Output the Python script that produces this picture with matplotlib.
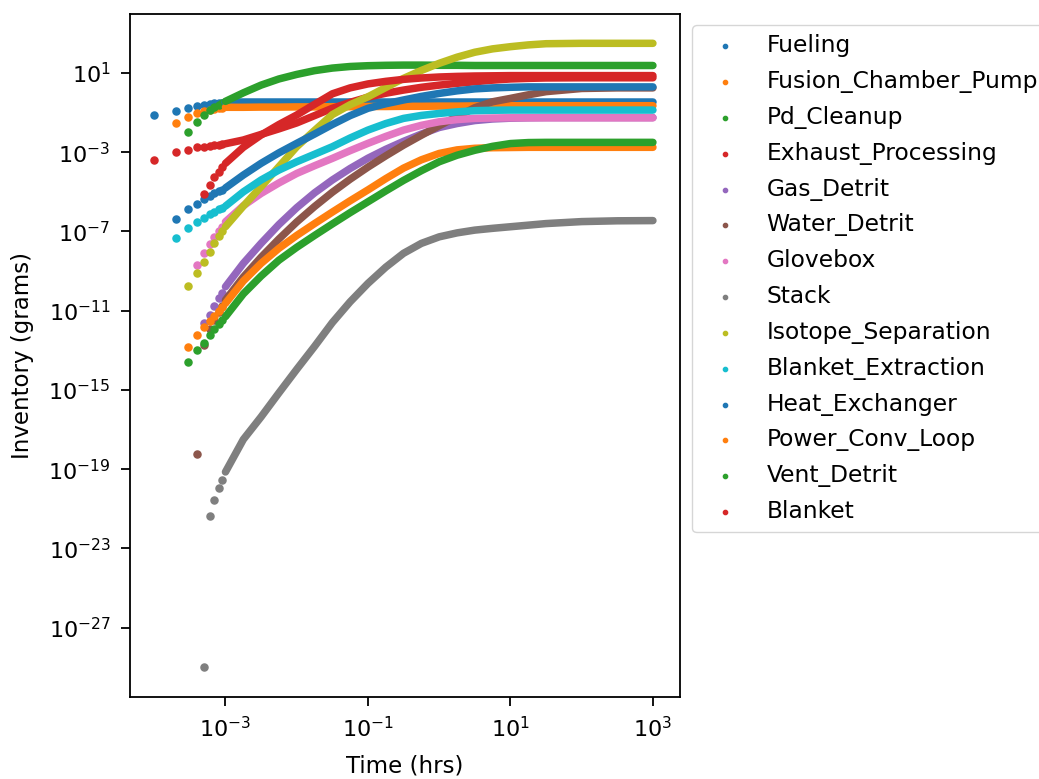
import numpy as np
import matplotlib
matplotlib.use("Agg")
import matplotlib.pyplot as plt
from matplotlib.ticker import NullLocator

NA = np.nan

# time points (hrs): sparse early dots, then the dense part of each curve
TIMES_EARLY = [1e-4, 2e-4, 3e-4, 4e-4, 5e-4, 6e-4, 7e-4, 8e-4, 9e-4]
TIMES_MAIN = [1e-3, 1.78e-3, 3.16e-3, 5.62e-3, 1e-2, 1.78e-2, 3.16e-2, 5.62e-2,
              0.1, 0.178, 0.316, 0.562, 1.0, 1.78, 3.16, 5.62,
              10.0, 17.8, 31.6, 100.0, 316.0, 1000.0]

COMPONENTS = [
    "Fueling", "Fusion_Chamber_Pump", "Pd_Cleanup", "Exhaust_Processing",
    "Gas_Detrit", "Water_Detrit", "Glovebox", "Stack", "Isotope_Separation",
    "Blanket_Extraction", "Heat_Exchanger", "Power_Conv_Loop", "Vent_Detrit", "Blanket",
]

# log10 of inventory (grams): 9 early dots, then TIMES_MAIN
FUELING = [-1.12, -0.90, -0.78, -0.68, -0.60, -0.55, -0.52, -0.50, -0.49,
           -0.47, -0.47, -0.47, -0.47, -0.47, -0.47, -0.47, -0.47, -0.47, -0.47, -0.47,
           -0.47, -0.47, -0.47, -0.47, -0.47, -0.47, -0.47, -0.47, -0.47, -0.47, -0.47]
FUSION_PUMP = [NA, -1.54, -1.20, -1.04, -0.92, -0.85, -0.80, -0.77, -0.75,
               -0.73, -0.73, -0.72, -0.72, -0.71, -0.71, -0.70, -0.70, -0.69, -0.69, -0.68,
               -0.68, -0.67, -0.67, -0.66, -0.66, -0.65, -0.65, -0.65, -0.65, -0.65, -0.65]
PD_CLEANUP = [NA, NA, -2.00, -1.48, -1.10, -0.87, -0.72, -0.60, -0.50,
              -0.43, 0.00, 0.39, 0.70, 0.93, 1.12, 1.25, 1.33, 1.37, 1.39, 1.40,
              1.40, 1.39, 1.39, 1.38, 1.38, 1.38, 1.38, 1.38, 1.38, 1.38, 1.38]
EXHAUST = [-3.38, -3.00, -2.87, -2.75, -2.71, -2.68, -2.65, -2.62, -2.60,
           -2.57, -2.38, -2.10, -1.82, -1.52, -1.15, -0.78, -0.48, -0.22, -0.02, 0.14,
           0.28, 0.39, 0.48, 0.56, 0.64, 0.70, 0.73, 0.75, 0.76, 0.76, 0.76]
GAS_DETRIT = [NA, NA, NA, NA, -11.60, -11.20, -10.77, -10.38, -10.08,
              -9.79, -8.61, -7.60, -6.65, -5.80, -5.05, -4.40, -3.82, -3.30, -2.85, -2.45,
              -2.08, -1.75, -1.55, -1.40, -1.32, -1.28, -1.26, -1.25, -1.25, -1.25, -1.25]
WATER_DETRIT = [NA, NA, NA, -18.24, -12.74, -11.90, -11.45, -11.05, -10.75,
                -10.46, -9.30, -8.30, -7.38, -6.52, -5.74, -5.02, -4.36, -3.75, -3.18, -2.64,
                -2.14, -1.66, -1.20, -0.75, -0.45, -0.28, -0.10, 0.06, 0.22, 0.25, 0.25]
GLOVEBOX = [NA, NA, NA, -8.70, -8.07, -7.64, -7.30, -7.00, -6.75,
            -6.51, -5.70, -5.08, -4.55, -4.07, -3.68, -3.31, -2.92, -2.55, -2.20, -1.88,
            -1.64, -1.46, -1.35, -1.29, -1.27, -1.26, -1.26, -1.26, -1.26, -1.26, -1.26]
STACK = [NA, NA, NA, NA, -28.98, -21.34, -20.55, -19.96, -19.52,
         -19.14, -17.50, -16.36, -15.15, -13.96, -12.80, -11.60, -10.55, -9.62, -8.80, -8.10,
         -7.60, -7.27, -7.07, -6.93, -6.84, -6.76, -6.68, -6.60, -6.50, -6.46, -6.45]
ISOTOPE_SEP = [NA, NA, -9.74, -9.12, -8.53, -8.03, -7.60, -7.25, -6.98,
               -6.76, -5.72, -4.74, -3.73, -2.72, -1.90, -1.10, -0.60, -0.20, 0.27, 0.73,
               1.13, 1.49, 1.80, 2.05, 2.22, 2.33, 2.42, 2.48, 2.50, 2.50, 2.50]
BLANKET_EXTRACTION = [NA, -7.32, -6.80, -6.53, -6.30, -6.13, -6.00, -5.88, -5.79,
                      -5.72, -5.00, -4.40, -3.90, -3.48, -3.10, -2.72, -2.28, -1.88, -1.55, -1.29,
                      -1.14, -1.04, -0.96, -0.90, -0.88, -0.87, -0.87, -0.87, -0.87, -0.87, -0.87]
HEAT_EXCHANGER = [NA, -6.37, -5.87, -5.60, -5.38, -5.22, -5.08, -4.97, -4.88,
                  -4.80, -4.15, -3.56, -3.03, -2.55, -2.08, -1.60, -1.15, -0.78, -0.55, -0.36,
                  -0.18, -0.03, 0.10, 0.20, 0.25, 0.28, 0.30, 0.30, 0.30, 0.30, 0.30]
POWER_CONV = [NA, NA, -12.82, -12.24, -11.81, -11.50, -11.25, -11.02, -10.82,
              -10.63, -9.50, -8.61, -7.85, -7.20, -6.60, -6.02, -5.45, -4.90, -4.33, -3.80,
              -3.38, -3.06, -2.88, -2.80, -2.77, -2.76, -2.75, -2.75, -2.75, -2.75, -2.75]
VENT_DETRIT = [NA, NA, -13.60, -13.00, -12.62, -12.20, -11.90, -11.65, -11.46,
               -11.30, -10.15, -9.25, -8.45, -7.80, -7.20, -6.62, -6.05, -5.50, -4.95, -4.42,
               -3.93, -3.48, -3.15, -2.90, -2.70, -2.56, -2.51, -2.50, -2.50, -2.50, -2.50]
BLANKET = [NA, NA, NA, NA, -5.11, -4.64, -4.27, -3.98, -3.75,
           -3.56, -2.75, -2.13, -1.60, -1.12, -0.58, -0.05, 0.25, 0.45, 0.58, 0.68,
           0.75, 0.80, 0.83, 0.85, 0.86, 0.87, 0.87, 0.87, 0.87, 0.87, 0.87]

SERIES = [FUELING, FUSION_PUMP, PD_CLEANUP, EXHAUST, GAS_DETRIT, WATER_DETRIT, GLOVEBOX,
          STACK, ISOTOPE_SEP, BLANKET_EXTRACTION, HEAT_EXCHANGER, POWER_CONV, VENT_DETRIT, BLANKET]


def make_plot():
    fig = plt.figure(figsize=(10.39, 7.79), dpi=100)
    ax = fig.add_axes([130 / 1039, 82 / 779, 550 / 1039, 683 / 779])

    colors = plt.rcParams["axes.prop_cycle"].by_key()["color"]
    times = np.array(TIMES_EARLY + TIMES_MAIN)
    n_early = len(TIMES_EARLY)

    for i, (name, logv) in enumerate(zip(COMPONENTS, SERIES)):
        c = colors[i % len(colors)]
        vals = 10.0 ** np.array(logv)
        # dense stretch of dots drawn as a thick band, sparse early dots as markers
        ax.plot(times[n_early:], vals[n_early:], color=c, lw=5.4,
                solid_capstyle="round", solid_joinstyle="round")
        ax.scatter(times[:n_early], vals[:n_early], s=26, color=c, label=name)

    ax.set_xscale("log")
    ax.set_yscale("log")
    ax.set_xlim(10 ** -4.34, 10 ** 3.38)
    ax.set_ylim(10 ** -30.5, 10 ** 3.98)
    ax.set_xticks([1e-3, 1e-1, 1e1, 1e3])
    ax.set_yticks([1e1, 1e-3, 1e-7, 1e-11, 1e-15, 1e-19, 1e-23, 1e-27])
    ax.xaxis.set_minor_locator(NullLocator())
    ax.yaxis.set_minor_locator(NullLocator())
    ax.tick_params(labelsize=16, length=6.5, width=1.3, pad=7.5)
    for spine in ax.spines.values():
        spine.set_linewidth(1.3)

    ax.set_xlabel("Time (hrs)", fontsize=16.5, labelpad=9)
    ax.set_ylabel("Inventory (grams)", fontsize=16.5, labelpad=10)

    ax.legend(loc="upper left", bbox_to_anchor=(692 / 1039, 1 - 25 / 779),
              bbox_transform=fig.transFigure, borderaxespad=0,
              fontsize=16.8, markerscale=0.6, labelspacing=0.55)

    fig.savefig("out.png", dpi=100)


if __name__ == "__main__":
    make_plot()
